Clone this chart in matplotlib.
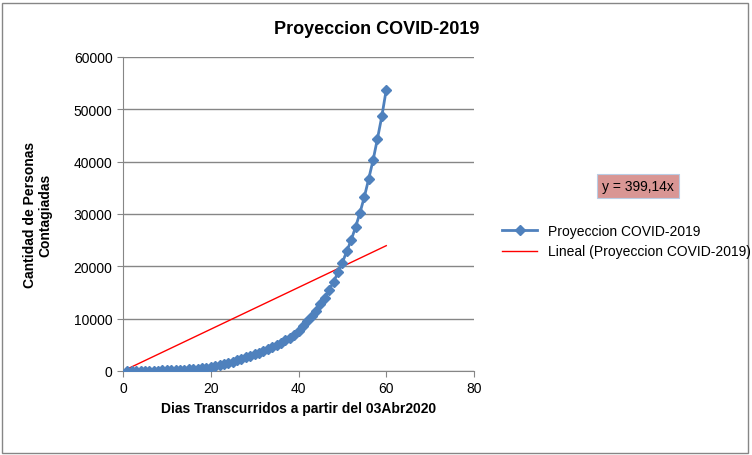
import numpy as np
from matplotlib import pyplot as plt
from matplotlib.lines import Line2D

plt.rcParams['font.family'] = ['Liberation Sans', 'DejaVu Sans']

# datos
dias = list(range(1, 61))
contagiados = [10, 15, 20, 30, 40, 55, 70, 90, 110, 135, 160, 190, 220, 260, 290,
               330, 420, 530, 660, 800, 960, 1140, 1340, 1560, 1800, 2060, 2330, 2610, 2900, 3200,
               3520, 3860, 4220, 4600, 5000, 5430, 5900, 6400, 6950, 7560, 8600, 9500, 10500, 11530, 12740,
               14000, 15480, 17070, 18850, 20700, 22900, 25000, 27500, 30200, 33250, 36700, 40300, 44400, 48700, 53760]
pendiente = 399.14  # y = 399,14x

azul = '#4F81BD'
fig = plt.figure(figsize=(7.52, 4.56), dpi=100)
ax = fig.add_axes([123/752, 1-372/456, (474-123)/752, (372-58)/456])

ax.plot(dias, contagiados, color=azul, lw=2, marker='D', ms=5, zorder=3)
xt = np.array([dias[0], dias[-1]])
ax.plot(xt, pendiente*xt, color='red', lw=1, zorder=2)

ax.set_xlim(0, 80)
ax.set_ylim(0, 60000)
ax.set_xticks([0, 20, 40, 60, 80])
ax.set_yticks(range(0, 60001, 10000))
ax.yaxis.grid(True, color='#868686', lw=1)
ax.set_axisbelow(True)
for s in ['top', 'right']:
    ax.spines[s].set_visible(False)
for s in ['left', 'bottom']:
    ax.spines[s].set_color('#868686')
ax.tick_params(direction='out', length=4, color='#868686', labelsize=10)

ax.set_xlabel('Dias Transcurridos a partir del 03Abr2020', fontsize=10, fontweight='bold')
ax.set_ylabel('Cantidad de Personas\nContagiadas', fontsize=10, fontweight='bold')
ax.yaxis.set_label_coords(-0.2, 0.5)
fig.text(377/752, 1-30/456, 'Proyeccion COVID-2019', ha='center', va='center', fontsize=13, fontweight='bold')

handles = [Line2D([], [], color=azul, lw=2, marker='D', ms=5),
           Line2D([], [], color='red', lw=1)]
fig.legend(handles, ['Proyeccion COVID-2019', 'Lineal (Proyeccion COVID-2019)'],
           loc='center left', bbox_to_anchor=(490/752, 1-242/456), frameon=False,
           fontsize=10, handlelength=2.5)

fig.text(638/752, 1-187/456, 'y = 399,14x', ha='center', va='center', fontsize=10,
         bbox=dict(boxstyle='square,pad=0.35', fc='#D99694', ec='#B9CDE5', lw=0.8))

fig.patches.append(plt.Rectangle((2/752, 2/456), 746/752, 450/456, transform=fig.transFigure,
                                 fill=False, ec='#868686', lw=1))
fig.savefig('out.png', dpi=100)
